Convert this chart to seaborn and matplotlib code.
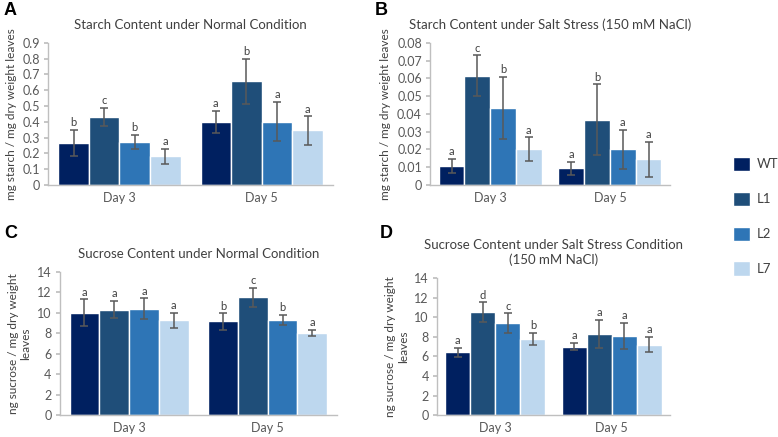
import matplotlib
matplotlib.use("Agg")
import matplotlib.pyplot as plt
import seaborn as sns
import pandas as pd
from matplotlib.patches import Patch

days = ["Day 3", "Day 5"]
lines = ["WT", "L1", "L2", "L7"]
colors = ["#002060", "#1f4e79", "#2e75b6", "#bdd7ee"]

# values per line: [Day 3, Day 5]
starch_normal = {"WT": [0.265, 0.40], "L1": [0.43, 0.655], "L2": [0.27, 0.40], "L7": [0.18, 0.345]}
starch_normal_err = {"WT": [0.085, 0.07], "L1": [0.06, 0.145], "L2": [0.045, 0.125], "L7": [0.05, 0.09]}
starch_normal_sig = {"WT": ["b", "a"], "L1": ["c", "b"], "L2": ["b", "a"], "L7": ["a", "a"]}

starch_salt = {"WT": [0.0105, 0.0093], "L1": [0.0615, 0.0368], "L2": [0.0435, 0.020], "L7": [0.020, 0.0143]}
starch_salt_err = {"WT": [0.004, 0.0038], "L1": [0.0115, 0.0198], "L2": [0.0175, 0.011], "L7": [0.0068, 0.010]}
starch_salt_sig = {"WT": ["a", "a"], "L1": ["c", "b"], "L2": ["b", "a"], "L7": ["a", "a"]}

sucrose_normal = {"WT": [10.0, 9.15], "L1": [10.3, 11.5], "L2": [10.4, 9.3], "L7": [9.25, 8.0]}
sucrose_normal_err = {"WT": [1.3, 0.8], "L1": [0.85, 0.95], "L2": [1.0, 0.5], "L7": [0.75, 0.3]}
sucrose_normal_sig = {"WT": ["a", "b"], "L1": ["a", "c"], "L2": ["a", "b"], "L7": ["a", "a"]}

sucrose_salt = {"WT": [6.4, 7.0], "L1": [10.5, 8.3], "L2": [9.4, 8.1], "L7": [7.8, 7.2]}
sucrose_salt_err = {"WT": [0.5, 0.4], "L1": [1.0, 1.4], "L2": [1.0, 1.35], "L7": [0.6, 0.8]}
sucrose_salt_sig = {"WT": ["a", "a"], "L1": ["d", "a"], "L2": ["c", "a"], "L7": ["b", "a"]}

sns.set_theme(style="white")
plt.rcParams["font.family"] = ["Lato", "DejaVu Sans"]
txt = "#404040"


def panel(ax, vals, errs, sigs, title, ylabel, ymax, ystep, fmt):
    df = pd.DataFrame([(d, l, vals[l][i]) for l in lines for i, d in enumerate(days)],
                      columns=["day", "line", "value"])
    sns.barplot(data=df, x="day", y="value", hue="line", order=days, hue_order=lines,
                palette=colors, width=0.86, errorbar=None, legend=False, ax=ax, saturation=1)
    off = ymax * 0.012
    for cont, l in zip(ax.containers, lines):
        for i, bar in enumerate(cont):
            x = bar.get_x() + bar.get_width() / 2
            v = vals[l][i]
            e = errs[l][i]
            ax.errorbar(x, v, yerr=e, fmt="none", ecolor="#595959", elinewidth=1.1,
                        capsize=3, capthick=1.1)
            ax.text(x, v + e + off, sigs[l][i], ha="center", va="bottom", fontsize=8, color=txt)
    ax.set_ylim(0, ymax)
    ticks = [ystep * k for k in range(int(round(ymax / ystep)) + 1)]
    ax.set_yticks(ticks)
    ax.set_yticklabels([fmt(t) for t in ticks], fontsize=9, color="#595959")
    ax.tick_params(axis="x", labelsize=9, colors="#595959", length=0, pad=5)
    ax.tick_params(axis="y", length=3, color="#bfbfbf", left=True, pad=3)
    ax.set_xlabel("")
    ax.set_ylabel(ylabel, fontsize=8.5, color=txt)
    ax.set_title(title, fontsize=9.5, color=txt, pad=10)
    for s in ["top", "right"]:
        ax.spines[s].set_visible(False)
    for s in ["left", "bottom"]:
        ax.spines[s].set_color("#bfbfbf")
        ax.spines[s].set_linewidth(1)
    ax.set_xlim(-0.5, 1.5)


fig = plt.figure(figsize=(7.78, 4.37), dpi=100)
axA = fig.add_axes([0.062, 0.577, 0.366, 0.325])
axB = fig.add_axes([0.553, 0.577, 0.308, 0.325])
axC = fig.add_axes([0.077, 0.050, 0.356, 0.328])
axD = fig.add_axes([0.562, 0.050, 0.299, 0.314])

panel(axA, starch_normal, starch_normal_err, starch_normal_sig,
      "Starch Content under Normal Condition", "mg starch / mg dry weight leaves",
      0.9, 0.1, lambda t: "0" if t == 0 else f"{t:.1f}")
panel(axB, starch_salt, starch_salt_err, starch_salt_sig,
      "Starch Content under Salt Stress (150 mM NaCl)", "mg starch / mg dry weight leaves",
      0.08, 0.01, lambda t: "0" if t == 0 else f"{t:.2f}")
panel(axC, sucrose_normal, sucrose_normal_err, sucrose_normal_sig,
      "Sucrose Content under Normal Condition", "ng sucrose / mg dry weight\nleaves",
      14, 2, lambda t: f"{t:.0f}")
panel(axD, sucrose_salt, sucrose_salt_err, sucrose_salt_sig,
      "Sucrose Content under Salt Stress Condition\n(150 mM NaCl)", "ng sucrose / mg dry weight\nleaves",
      14, 2, lambda t: f"{t:.0f}")

for letter, (x, y) in zip("ABCD", [(0.005, 0.975), (0.482, 0.975), (0.005, 0.465), (0.488, 0.465)]):
    fig.text(x, y, letter, fontsize=13, fontweight="bold", color="black", va="center",
             family=["Liberation Sans", "DejaVu Sans"])

handles = [Patch(facecolor=c, label=l) for c, l in zip(colors, lines)]
fig.legend(handles=handles, loc="center left", bbox_to_anchor=(0.942, 0.505), frameon=False,
           fontsize=9.5, handlelength=1.3, handleheight=1.3, labelspacing=1.55, handletextpad=0.5,
           borderpad=0, borderaxespad=0, labelcolor=txt)

fig.savefig("out.png", dpi=100)
